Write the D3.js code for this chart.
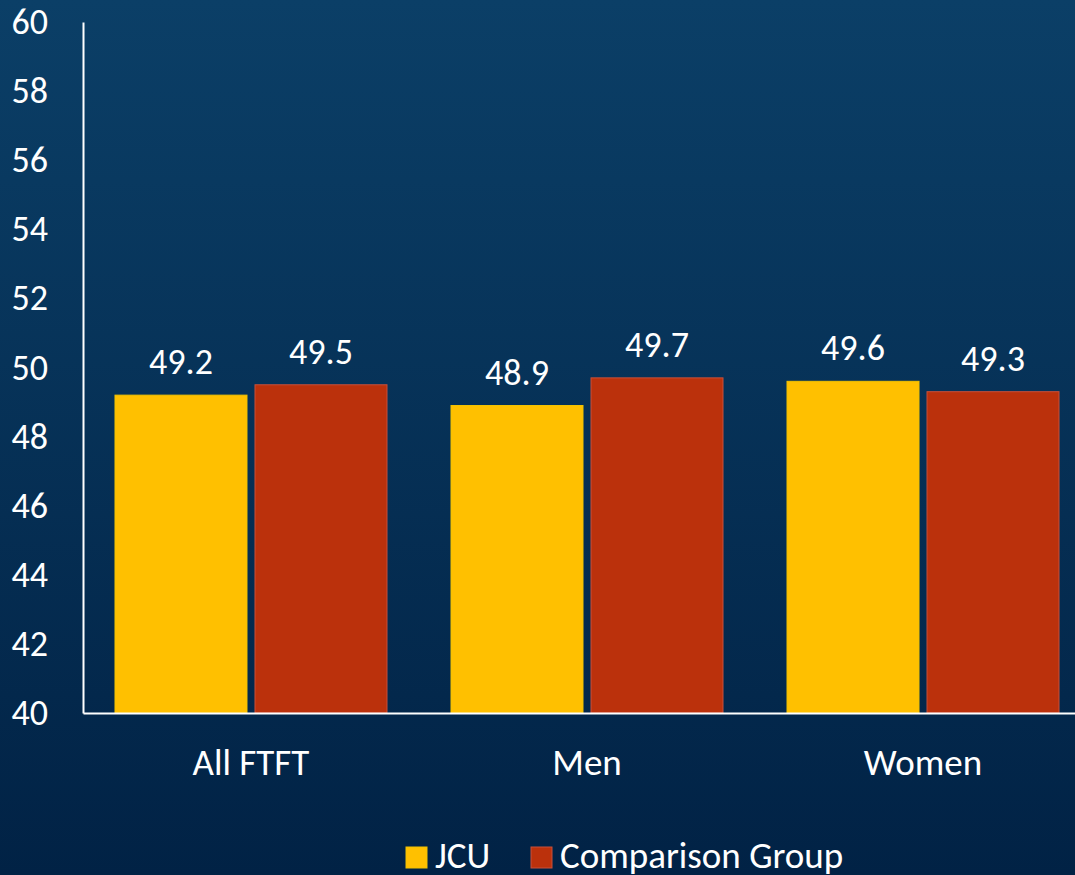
<!DOCTYPE html>
<html>
<head>
<meta charset="utf-8">
<script src="https://cdn.jsdelivr.net/npm/d3@7"></script>
<style>
  html, body { margin: 0; padding: 0; }
  body { width: 1075px; height: 875px; overflow: hidden; }
  svg { display: block; font-family: Carlito, Calibri, Lato, "Open Sans", sans-serif; }
</style>
</head>
<body>
<div id="chart"></div>
<script>
var categories = ["All FTFT", "Men", "Women"];
var seriesNames = ["JCU", "Comparison Group"];
var jcuValues = [49.2, 48.9, 49.6];
var comparisonValues = [49.5, 49.7, 49.3];
var yTicks = [40, 42, 44, 46, 48, 50, 52, 54, 56, 58, 60];
var colors = ["#FFC000", "#BB310C"];

var svgWidth = 1075;
var svgHeight = 875;
var fontFam = "Carlito, Calibri, Lato, 'Open Sans', sans-serif";

var svg = d3.select("#chart")
  .append("svg")
  .attr("width", svgWidth)
  .attr("height", svgHeight);

// background gradient
var defs = svg.append("defs");
var grad = defs.append("linearGradient")
  .attr("id", "bg")
  .attr("x1", 0).attr("y1", 0).attr("x2", 0).attr("y2", 1);
grad.append("stop").attr("offset", "0%").attr("stop-color", "#0b3f67");
grad.append("stop").attr("offset", "100%").attr("stop-color", "#012245");

svg.append("rect")
  .attr("width", svgWidth)
  .attr("height", svgHeight)
  .attr("fill", "url(#bg)");

var data = categories.map(function(c, i) {
  return { cat: c, values: [jcuValues[i], comparisonValues[i]] };
});

var x0 = d3.scaleBand()
  .domain(categories)
  .range([83, 1091])
  .paddingInner(0.1905)
  .paddingOuter(0.0952);

var x1 = d3.scaleBand()
  .domain(seriesNames)
  .range([0, x0.bandwidth()])
  .paddingInner(0.0571);

var y = d3.scaleLinear()
  .domain([40, 60])
  .range([713, 22]);

// bars
var groups = svg.selectAll("g.group")
  .data(data)
  .enter()
  .append("g")
  .attr("class", "group")
  .attr("transform", d => `translate(${x0(d.cat)},0)`);

groups.selectAll("rect")
  .data(d => d.values.map((v, i) => ({ name: seriesNames[i], value: v, i: i })))
  .enter()
  .append("rect")
  .attr("x", d => x1(d.name))
  .attr("y", d => y(d.value))
  .attr("width", x1.bandwidth())
  .attr("height", d => y(40) - y(d.value))
  .attr("fill", d => colors[d.i])
  .attr("stroke", d => d.i === 0 ? "#f2c200" : "#c8503a")
  .attr("stroke-width", 1);

// value labels
groups.selectAll("text.val")
  .data(d => d.values.map((v, i) => ({ name: seriesNames[i], value: v })))
  .enter()
  .append("text")
  .attr("class", "val")
  .attr("x", d => x1(d.name) + x1.bandwidth() / 2)
  .attr("y", d => y(d.value) - 21)
  .attr("text-anchor", "middle")
  .attr("fill", "white")
  .attr("font-size", "36px")
  .text(d => d.value.toFixed(1));

// y axis
var leftAxis = d3.axisLeft(y).tickValues(yTicks).tickSize(0).tickPadding(35);
var yAxis = svg.append("g")
  .attr("transform", "translate(83,0)")
  .call(leftAxis);
yAxis.select(".domain").attr("stroke", "white").attr("stroke-width", 2);
yAxis.selectAll("text")
  .attr("fill", "white")
  .attr("font-size", "36px")
  .attr("font-family", fontFam);

// x axis
var bottomAxis = d3.axisBottom(x0).tickSize(0).tickPadding(36);
var xAxis = svg.append("g")
  .attr("transform", "translate(0,713)")
  .call(bottomAxis);
xAxis.select(".domain").attr("stroke", "white").attr("stroke-width", 2);
xAxis.selectAll("text")
  .attr("fill", "white")
  .attr("font-size", "37px")
  .attr("font-family", fontFam);

// legend
var legendX = [406, 531];
var legend = svg.selectAll("g.legend")
  .data(seriesNames)
  .enter()
  .append("g")
  .attr("class", "legend")
  .attr("transform", (d, i) => `translate(${legendX[i]},847)`);

legend.append("rect")
  .attr("width", 21)
  .attr("height", 21)
  .attr("fill", (d, i) => colors[i])
  .attr("stroke", (d, i) => i === 0 ? "#f2c200" : "#c8503a");

legend.append("text")
  .attr("x", 29)
  .attr("y", 21)
  .attr("fill", "white")
  .attr("font-size", "37px")
  .text(d => d);
</script>
</body>
</html>
